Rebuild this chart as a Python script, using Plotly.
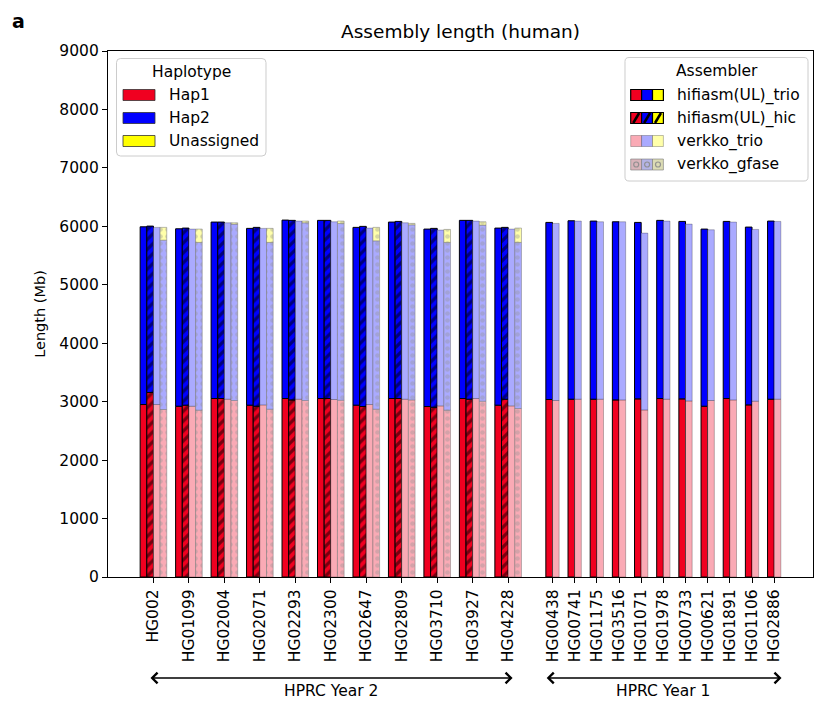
import plotly.graph_objects as go

samples_y2 = ["HG002", "HG01099", "HG02004", "HG02071", "HG02293", "HG02300",
              "HG02647", "HG02809", "HG03710", "HG03927", "HG04228"]
samples_y1 = ["HG00438", "HG00741", "HG01175", "HG03516", "HG01071", "HG01978",
              "HG00733", "HG00621", "HG01891", "HG01106", "HG02886"]

# lengths in Mb
# HPRC Year 2
trio_hap1_y2 = [2951, 2922, 3054, 2940, 3054, 3054, 2940, 3054, 2917, 3054, 2940]
trio_hap2_y2 = [3041, 3036, 3019, 3025, 3053, 3048, 3042, 3019, 3036, 3048, 3030]
hic_hap1_y2 = [3157, 2940, 3054, 2922, 3030, 3054, 2917, 3054, 2905, 3042, 3042]
hic_hap2_y2 = [2847, 3030, 3019, 3060, 3072, 3048, 3082, 3030, 3060, 3060, 2940]
verkko_hap1_y2 = [2951, 2922, 3042, 2945, 3042, 3037, 2951, 3042, 2928, 3054, 2928]
verkko_hap2_y2 = [3031, 3031, 3019, 3020, 3048, 3041, 3019, 3019, 3008, 3036, 3025]
gfase_hap1_y2 = [2866, 2854, 3020, 2871, 3020, 3025, 2871, 3030, 2854, 3008, 2883]
gfase_hap2_y2 = [2898, 2871, 3018, 2854, 3041, 3025, 2881, 2996, 2871, 3013, 2842]
gfase_unassigned_y2 = [218, 228, 23, 240, 29, 40, 230, 24, 222, 57, 245]

# HPRC Year 1
trio_hap1_y1 = [3037, 3042, 3042, 3030, 3048, 3054, 3048, 2922, 3054, 2945, 3042]
trio_hap2_y1 = [3030, 3053, 3048, 3048, 3019, 3048, 3036, 3031, 3030, 3042, 3048]
verkko_hap1_y1 = [3020, 3042, 3042, 3030, 2859, 3042, 3013, 3020, 3030, 3008, 3042]
verkko_hap2_y1 = [3030, 3048, 3036, 3048, 3025, 3048, 3025, 2921, 3043, 2939, 3042]

RED = "#f00020"
BLUE = "#0000ff"
YELLOW = "#ffff00"
LRED = "#faaab5"
LBLUE = "#aaaaff"
LYELLOW = "#ffffaa"
BW = 0.3

pos_y2 = [i * 1.6 for i in range(len(samples_y2))]
pos_y1 = [pos_y2[-1] + 2 + i for i in range(len(samples_y1))]

fig = go.Figure()


def add_stack(name, xs, parts, colors, line, pattern=None):
    base = [0] * len(xs)
    for (hap, vals), col in zip(parts, colors):
        marker = dict(color=col, line=dict(color=line, width=1))
        if pattern:
            marker["pattern"] = pattern
        fig.add_trace(go.Bar(x=xs, y=vals, base=base, width=BW, marker=marker,
                             name=name + " " + hap, showlegend=False))
        base = [b + v for b, v in zip(base, vals)]


hatch = dict(shape="/", fgcolor="black", size=7, solidity=0.45)
dots = dict(shape=".", fgcolor="rgba(150,150,150,0.75)", size=7, solidity=0.35)

add_stack("hifiasm(UL)_trio",
          [p - 0.45 for p in pos_y2] + [p - 0.15 for p in pos_y1],
          [("Hap1", trio_hap1_y2 + trio_hap1_y1), ("Hap2", trio_hap2_y2 + trio_hap2_y1)],
          [RED, BLUE], "black")
add_stack("hifiasm(UL)_hic", [p - 0.15 for p in pos_y2],
          [("Hap1", hic_hap1_y2), ("Hap2", hic_hap2_y2)],
          [RED, BLUE], "black", hatch)
add_stack("verkko_trio",
          [p + 0.15 for p in pos_y2] + [p + 0.15 for p in pos_y1],
          [("Hap1", verkko_hap1_y2 + verkko_hap1_y1), ("Hap2", verkko_hap2_y2 + verkko_hap2_y1)],
          [LRED, LBLUE], "rgba(0,0,0,0.25)")
add_stack("verkko_gfase", [p + 0.45 for p in pos_y2],
          [("Hap1", gfase_hap1_y2), ("Hap2", gfase_hap2_y2), ("Unassigned", gfase_unassigned_y2)],
          [LRED, LBLUE, LYELLOW], "rgba(120,120,120,0.5)", dots)

# the page body adds an 8px offset, so the figure is a bit smaller
OFF = 8
FW, FH = 830 - OFF, 713 - OFF
# plot area in window pixels
L, R, T, B = 108, 813, 51, 577
W, H = R - L, B - T


def fx(px):
    return (px - L) / W


def fy(py):
    return (B - py) / H


shapes = []
annos = []


def rbox(x0, y0, x1, y1, r=4):
    pts = [("M", x0 + r, y0), ("L", x1 - r, y0), ("Q", x1, y0, x1, y0 + r),
           ("L", x1, y1 - r), ("Q", x1, y1, x1 - r, y1), ("L", x0 + r, y1),
           ("Q", x0, y1, x0, y1 - r), ("L", x0, y0 + r), ("Q", x0, y0, x0 + r, y0)]
    path = ""
    for p in pts:
        cmd, coords = p[0], p[1:]
        xy = []
        for i in range(0, len(coords), 2):
            xy.append(f"{fx(coords[i]):.5f},{fy(coords[i + 1]):.5f}")
        path += cmd + " ".join(xy)
    shapes.append(dict(type="path", path=path + "Z", xref="paper", yref="paper",
                       fillcolor="rgba(255,255,255,0.85)", line=dict(color="#cccccc", width=1)))


def rect(x0, y0, x1, y1, fill, line, lw=1):
    shapes.append(dict(type="rect", xref="paper", yref="paper",
                       x0=fx(x0), x1=fx(x1), y0=fy(y1), y1=fy(y0),
                       fillcolor=fill, line=dict(color=line, width=lw)))


def text(px, py, s, size=15.5, anchor="left"):
    annos.append(dict(x=fx(px), y=fy(py), xref="paper", yref="paper", text=s,
                      showarrow=False, xanchor=anchor, yanchor="middle",
                      font=dict(size=size, color="black")))


# Haplotype legend
rbox(116.5, 58.5, 266, 156)
text(191, 72, "Haplotype", anchor="center")
for yy, col, lab in [(95, RED, "Hap1"), (118, BLUE, "Hap2"), (141, YELLOW, "Unassigned")]:
    rect(123, yy - 5.5, 155, yy + 5.5, col, "#333333", 0.8)
    text(167, yy, lab)

# Assembler legend
rbox(625, 57.5, 808, 181)
text(716.5, 71, "Assembler", anchor="center")
cw = 10.9
rows = [(95, "hifiasm(UL)_trio", [RED, BLUE, YELLOW], "black", None),
        (118, "hifiasm(UL)_hic", [RED, BLUE, YELLOW], "black", "hatch"),
        (141, "verkko_trio", [LRED, LBLUE, LYELLOW], "rgba(0,0,0,0.25)", None),
        (164.5, "verkko_gfase", ["#d8b4ba", "#b4b4e6", "#dcdcb4"], "rgba(120,120,120,0.6)", "dots")]
for yy, lab, cols, lc, kind in rows:
    for k, col in enumerate(cols):
        x0 = 630.7 + k * cw
        rect(x0, yy - 5.5, x0 + cw, yy + 5.5, col, lc, 1.2 if lc == "black" else 1)
        if kind == "hatch":
            shapes.append(dict(type="line", xref="paper", yref="paper",
                               x0=fx(x0 + 2.5), y0=fy(yy + 5), x1=fx(x0 + 8.5), y1=fy(yy - 5),
                               line=dict(color="black", width=2.5)))
        if kind == "dots":
            shapes.append(dict(type="circle", xref="paper", yref="paper",
                               x0=fx(x0 + 3), y0=fy(yy + 2.5), x1=fx(x0 + 8), y1=fy(yy - 2.5),
                               fillcolor="rgba(255,255,255,0)",
                               line=dict(color="rgba(140,140,140,0.9)", width=1.2)))
    text(675, yy, lab)

# cohort arrows below the tick labels
groups = [("HPRC Year 2", pos_y2, 0.2), ("HPRC Year 1", pos_y1, 0.33)]
for lab, pos, pad in groups:
    x0, x1 = pos[0] - pad, pos[-1] + pad
    annos.append(dict(x=x1, y=fy(678), xref="x", yref="paper", ax=x0, ay=0,
                      axref="x", ayref="pixel", text="", showarrow=True,
                      arrowside="end+start", arrowhead=4, startarrowhead=4,
                      arrowsize=1.3, startarrowsize=1.3, arrowwidth=1.6,
                      arrowcolor="black", standoff=0, startstandoff=0))
    annos.append(dict(x=(x0 + x1) / 2, y=fy(691), xref="x", yref="paper", text=lab,
                      showarrow=False, xanchor="center", yanchor="middle",
                      font=dict(size=15.5, color="black")))

annos.append(dict(x=fx(18), y=fy(21), xref="paper", yref="paper",
                  text="<b>a</b>", showarrow=False, xanchor="center", yanchor="middle",
                  font=dict(size=19, color="black")))

fig.update_layout(
    width=FW, height=FH,
    margin=dict(l=L - OFF, r=830 - R, t=T - OFF, b=713 - B),
    barmode="overlay",
    plot_bgcolor="white", paper_bgcolor="white",
    font=dict(family="DejaVu Sans", size=15.5, color="black"),
    title=dict(text="Assembly length (human)", x=0.5, xref="paper", xanchor="center",
               y=1 - (32 - OFF) / FH, yanchor="middle", font=dict(size=18.5)),
    shapes=shapes, annotations=annos,
)
fig.update_xaxes(range=[-2.05, pos_y1[-1] + 1.75], tickvals=pos_y2 + pos_y1,
                 ticktext=samples_y2 + samples_y1, tickangle=-90,
                 showline=True, linecolor="black", linewidth=1.2, mirror=True,
                 ticks="outside", ticklen=5, tickcolor="black", showgrid=False,
                 zeroline=False, tickfont=dict(size=15.5))
fig.update_yaxes(range=[0, 9000], dtick=1000, showline=True, linecolor="black",
                 linewidth=1.2, mirror=True, ticks="outside", ticklen=5,
                 tickcolor="black", showgrid=False, zeroline=False,
                 title=dict(text="Length (Mb)", font=dict(size=14.5), standoff=10),
                 tickfont=dict(size=15.5))

fig.write_html("out.html")
